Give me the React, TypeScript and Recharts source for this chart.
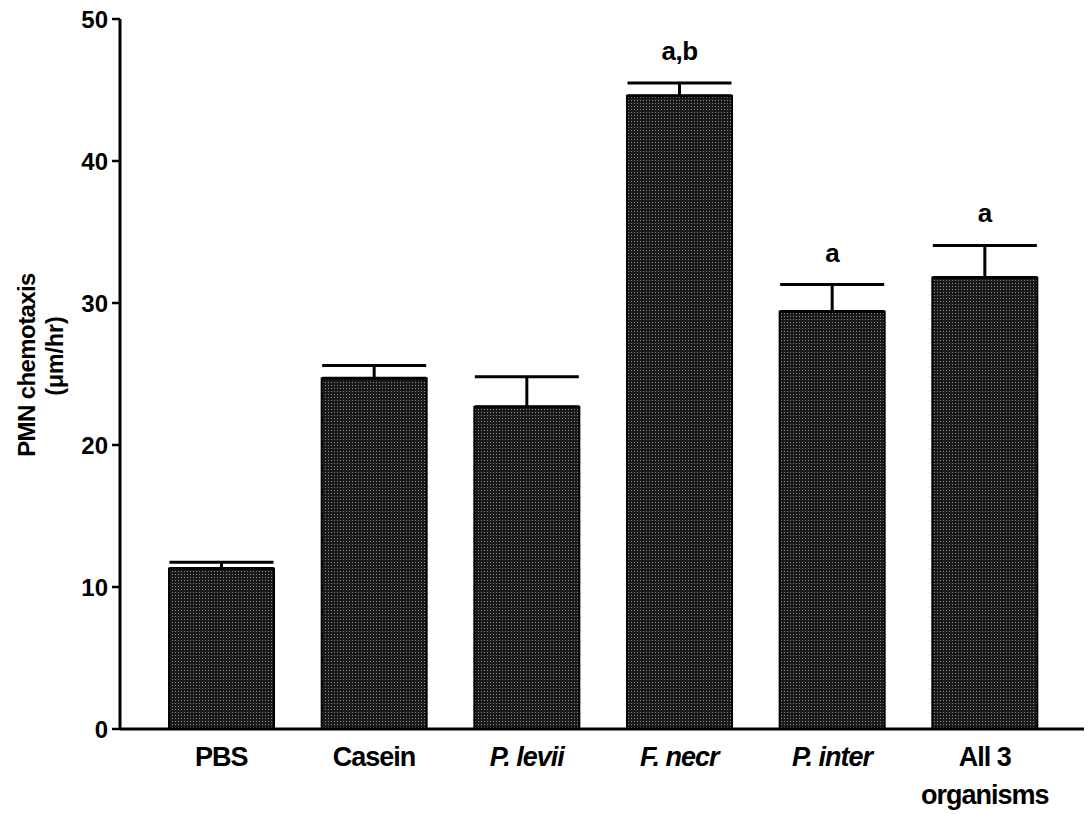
import React from 'react';
import { BarChart, Bar, XAxis, YAxis, ErrorBar, LabelList, Label } from 'recharts';

const categories = ['PBS', 'Casein', 'P. levii', 'F. necr', 'P. inter', 'All 3 organisms'];
const italicCats = [false, false, true, true, true, false];
const chemotaxis = [11.3, 24.7, 22.7, 44.6, 29.4, 31.8];
const sem = [0.45, 0.9, 2.1, 0.9, 1.9, 2.25];
const significance = ['', '', '', 'a,b', 'a', 'a'];
const yTicks = [0, 10, 20, 30, 40, 50];

const FONT = '"Liberation Sans", Arial, sans-serif';

const data = categories.map((name, i) => ({
  name,
  value: chemotaxis[i],
  err: [0, sem[i]],
  sig: significance[i],
}));

const CategoryTick = (props: any) => {
  const { x, y, payload, index } = props;
  const label: string = payload.value;
  const italic = italicCats[index];
  const lines = label === 'All 3 organisms' ? ['All 3', 'organisms'] : [label];
  return (
    <g>
      {lines.map((ln, i) => (
        <text
          key={i}
          x={x}
          y={y + 37 + i * 38}
          textAnchor="middle"
          fontFamily={FONT}
          fontWeight="bold"
          fontSize={27}
          fontStyle={italic ? 'italic' : 'normal'}
          letterSpacing={-1}
          fill="#000"
        >
          {ln}
        </text>
      ))}
    </g>
  );
};

const SigLabel = (props: any) => {
  const { x, y, width, height, value, index } = props;
  if (!value) return null;
  const perUnit = height / chemotaxis[index];
  const capY = y - sem[index] * perUnit;
  return (
    <text
      x={x + width / 2}
      y={capY - 23}
      textAnchor="middle"
      fontFamily={FONT}
      fontWeight="bold"
      fontSize={26}
      letterSpacing={-0.5}
      fill="#000"
    >
      {value}
    </text>
  );
};

const YTitle = () => (
  <g fontFamily={FONT} fontWeight="bold" fill="#000">
    <text x={26} y={365} transform="rotate(-90, 26, 365)" textAnchor="middle" dominantBaseline="central" fontSize={24} letterSpacing={-0.6}>
      PMN chemotaxis
    </text>
    <text x={55} y={356} transform="rotate(-90, 55, 356)" textAnchor="middle" dominantBaseline="central" fontSize={23}>
      (μm/hr)
    </text>
  </g>
);

export default function App() {
  return (
    <div style={{ position: 'absolute', left: 0, top: 0, background: '#fff' }}>
      <BarChart
        width={1088}
        height={814}
        data={data}
        margin={{ top: 19, right: 4, bottom: 0, left: 0 }}
        barSize={105}
      >
        <defs>
          <pattern id="stipple" width="3" height="3" patternUnits="userSpaceOnUse">
            <rect width="3" height="3" fill="#1a1a1a" />
            <rect x="1" y="1" width="1" height="1" fill="#888" />
          </pattern>
        </defs>
        <XAxis
          dataKey="name"
          height={85}
          interval={0}
          padding={{ left: 25, right: 23 }}
          tickLine={false}
          tickSize={0}
          tickMargin={0}
          tick={<CategoryTick />}
          axisLine={{ stroke: '#000', strokeWidth: 3 }}
        />
        <YAxis
          width={120}
          domain={[0, 50]}
          ticks={yTicks}
          interval={0}
          tickSize={8}
          tickMargin={4}
          tickLine={{ stroke: '#000', strokeWidth: 2.5 }}
          axisLine={{ stroke: '#000', strokeWidth: 3 }}
          tick={{ fill: '#000', fontFamily: FONT, fontWeight: 'bold', fontSize: 24 }}
        >
          <Label content={<YTitle />} />
        </YAxis>
        <Bar dataKey="value" fill="url(#stipple)" stroke="#000" strokeWidth={2} isAnimationActive={false}>
          <ErrorBar dataKey="err" direction="y" width={52} stroke="#000" strokeWidth={3} />
          <LabelList dataKey="sig" content={<SigLabel />} />
        </Bar>
      </BarChart>
    </div>
  );
}
